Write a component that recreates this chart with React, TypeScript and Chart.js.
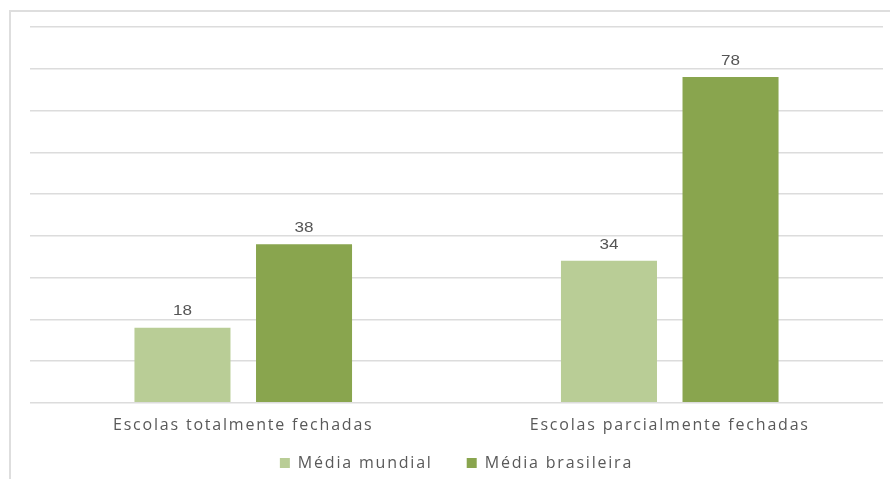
import React, { useEffect, useRef } from "react";
import { Chart, registerables } from "chart.js";

Chart.register(...registerables);

const categories = ["Escolas totalmente fechadas", "Escolas parcialmente fechadas"];
const seriesNames = ["Média mundial", "Média brasileira"];
const mediaMundial = [18, 34];
const mediaBrasileira = [38, 78];
const yMax = 90;
const yStep = 10;

const COLOR_LIGHT = "#b9cd96";
const COLOR_DARK = "#89a54e";
const TEXT = "#595959";
const SPACING = "1.8px";
const LEGEND_HEIGHT_CUT = 29;
const LEGEND_LIFT = 27;

const spacingPlugin = {
  id: "spacing",
  beforeLayout(chart: any) {
    chart.ctx.letterSpacing = SPACING;
    const leg = chart.legend;
    if (leg && !leg.__patched) {
      leg.__patched = true;
      const fit = leg.fit.bind(leg);
      leg.fit = function () {
        fit();
        this.height = Math.max(0, this.height - LEGEND_HEIGHT_CUT);
      };
      const inner = leg._draw.bind(leg);
      leg._draw = function () {
        const c = this.ctx;
        c.save();
        c.translate(0, -LEGEND_LIFT);
        inner();
        c.restore();
      };
    }
  },
  beforeDraw(chart: any) {
    chart.ctx.letterSpacing = SPACING;
  },
};

const framePlugin = {
  id: "frame",
  beforeDraw(chart: any) {
    const ctx = chart.ctx;
    ctx.save();
    ctx.fillStyle = "#ffffff";
    ctx.fillRect(0, 0, chart.width, chart.height);
    ctx.strokeStyle = "#dedede";
    ctx.lineWidth = 2;
    ctx.beginPath();
    ctx.moveTo(10, chart.height);
    ctx.lineTo(10, 11);
    ctx.lineTo(chart.width, 11);
    ctx.stroke();
    ctx.restore();
  },
};

const valueLabelPlugin = {
  id: "valueLabels",
  afterDatasetsDraw(chart: any) {
    const ctx = chart.ctx;
    chart.data.datasets.forEach((ds: any, i: number) => {
      const meta = chart.getDatasetMeta(i);
      meta.data.forEach((bar: any, j: number) => {
        ctx.save();
        ctx.letterSpacing = "0px";
        ctx.font = "14px 'Liberation Sans', Arial, sans-serif";
        ctx.fillStyle = "#555555";
        ctx.textAlign = "center";
        ctx.textBaseline = "middle";
        ctx.translate(bar.x, bar.y - 16);
        ctx.scale(1.22, 1);
        ctx.fillText(String(ds.data[j]), 0, 0);
        ctx.restore();
      });
    });
  },
};

export default function App() {
  const ref = useRef<HTMLCanvasElement>(null);
  useEffect(() => {
    if (!ref.current) return;
    const chart = new Chart(ref.current, {
      type: "bar",
      data: {
        labels: categories,
        datasets: [
          {
            label: seriesNames[0],
            data: mediaMundial,
            backgroundColor: COLOR_LIGHT,
            categoryPercentage: 0.57,
            barPercentage: 0.79,
          },
          {
            label: seriesNames[1],
            data: mediaBrasileira,
            backgroundColor: COLOR_DARK,
            categoryPercentage: 0.57,
            barPercentage: 0.79,
          },
        ],
      },
      options: {
        animation: false,
        responsive: false,
        layout: { padding: { left: 30, right: 7, top: 27, bottom: 0 } },
        scales: {
          x: {
            grid: { display: false, drawTicks: false },
            border: { display: false },
            ticks: {
              color: TEXT,
              padding: 13,
              font: { family: "'Open Sans', sans-serif", size: 16 },
            },
          },
          y: {
            min: 0,
            max: yMax,
            border: { display: false },
            grid: { color: "#dcdcdc", lineWidth: 1.5, drawTicks: false },
            ticks: { display: false, stepSize: yStep },
          },
        },
        plugins: {
          legend: {
            position: "bottom",
            labels: {
              color: TEXT,
              boxWidth: 10,
              boxHeight: 10,
              padding: 34,
              font: { family: "'Open Sans', sans-serif", size: 16 },
            },
          },
          tooltip: { enabled: false },
        },
      },
      plugins: [spacingPlugin, framePlugin, valueLabelPlugin],
    });
    return () => chart.destroy();
  }, []);
  return (
    <div style={{ position: "fixed", left: 0, top: 0, width: 890, height: 479 }}>
      <canvas ref={ref} width={890} height={479} />
    </div>
  );
}
